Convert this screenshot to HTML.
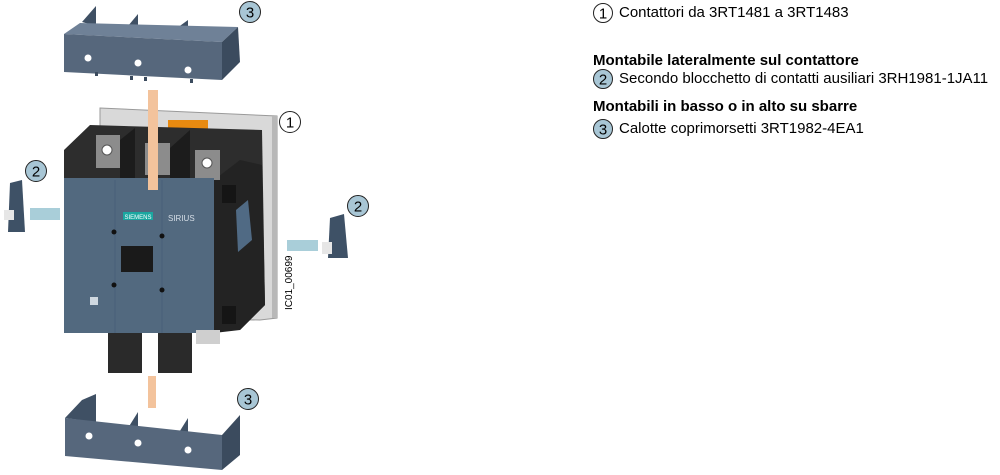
<!DOCTYPE html>
<html><head><meta charset="utf-8"><style>
html,body{margin:0;padding:0;background:#fff;}
body{width:1000px;height:475px;position:relative;overflow:hidden;font-family:"Liberation Sans",Arial,sans-serif;}
.t{position:absolute;font-size:15px;color:#000;white-space:nowrap;}
.b{font-weight:bold;}
</style></head><body>
<svg width="1000" height="475" style="position:absolute;left:0;top:0" font-family="Liberation Sans, sans-serif">
<!-- top cover -->
<polygon points="82,22 96,6 96,26" fill="#3f5064"/>
<polygon points="128,26 138,14 138,30" fill="#3f5064"/>
<polygon points="177,28 188,20 188,34" fill="#3f5064"/>
<polygon points="64,34 80,23 238,27 222,42" fill="#6f8197"/>
<polygon points="222,42 238,27 240,62 222,80" fill="#3b4b5e"/>
<polygon points="64,34 222,42 222,80 64,72" fill="#56677c"/>
<circle cx="88" cy="58" r="3.5" fill="#fff"/><circle cx="138" cy="63" r="3.5" fill="#fff"/><circle cx="188" cy="70" r="3.5" fill="#fff"/>
<rect x="95" y="72" width="3" height="4" fill="#3b4b5e"/><rect x="130" y="76" width="3" height="4" fill="#3b4b5e"/><rect x="144" y="77" width="3" height="4" fill="#3b4b5e"/><rect x="190" y="79" width="3" height="4" fill="#3b4b5e"/>
<!-- backplate -->
<polygon points="100,108 277,116 277,318 260,320 100,318" fill="#d9d9d9" stroke="#9a9a9a"/>
<rect x="272" y="116" width="5" height="202" fill="#b8b8b8"/>
<rect x="168" y="120" width="40" height="12" fill="#e88a10"/>
<!-- dark body -->
<polygon points="64,150 90,125 262,130 265,305 240,330 64,330" fill="#2d2d2d"/>
<polygon points="214,180 240,160 262,165 265,305 240,330 214,333" fill="#232323"/>
<!-- terminals -->
<polygon points="96,135 120,135 120,168 96,168" fill="#8c8c8c"/>
<circle cx="107" cy="150" r="5" fill="#fff" stroke="#555"/>
<polygon points="145,143 170,143 170,175 145,175" fill="#8c8c8c"/>
<polygon points="195,150 220,150 220,180 195,180" fill="#8c8c8c"/>
<circle cx="207" cy="163" r="5" fill="#fff" stroke="#555"/>
<polygon points="120,140 135,128 135,180 120,188" fill="#1c1c1c"/>
<polygon points="170,148 190,130 190,180 170,188" fill="#1c1c1c"/>
<!-- blue front -->
<rect x="64" y="178" width="150" height="155" fill="#52697f"/>
<line x1="115" y1="180" x2="115" y2="333" stroke="#48607a"/>
<line x1="162" y1="180" x2="162" y2="333" stroke="#48607a"/>
<rect x="123" y="212" width="30" height="8" fill="#1ba7a0"/>
<text x="138" y="219" font-size="6" fill="#fff" text-anchor="middle">SIEMENS</text>
<text x="168" y="221" font-size="8" fill="#d5dde6">SIRIUS</text>
<circle cx="114" cy="232" r="2.5" fill="#111"/><circle cx="162" cy="236" r="2.5" fill="#111"/>
<circle cx="114" cy="285" r="2.5" fill="#111"/><circle cx="162" cy="290" r="2.5" fill="#111"/>
<rect x="121" y="246" width="32" height="26" fill="#1a1a1a"/>
<rect x="90" y="297" width="8" height="8" fill="#cfd8e0"/>
<!-- right side details -->
<rect x="222" y="185" width="14" height="18" fill="#151515"/>
<rect x="222" y="306" width="14" height="18" fill="#151515"/>
<polygon points="236,210 248,200 252,240 238,252" fill="#506a84"/>
<!-- bottom terminals -->
<rect x="108" y="333" width="34" height="40" fill="#2a2a2a"/>
<rect x="158" y="333" width="34" height="40" fill="#2a2a2a"/>
<rect x="196" y="330" width="24" height="14" fill="#cfcfcf"/>
<!-- peach bars -->
<rect x="148" y="90" width="10" height="100" fill="#f3c39c"/>
<rect x="148" y="376" width="8" height="32" fill="#f3c39c"/>
<!-- bottom cover -->
<polygon points="65,418 82,400 96,394 96,424 80,420" fill="#3f5064"/>
<polygon points="128,428 138,412 138,432" fill="#3f5064"/>
<polygon points="178,434 188,418 188,440" fill="#3f5064"/>
<polygon points="222,435 240,415 240,455 222,470" fill="#3b4b5e"/>
<polygon points="65,418 222,435 222,470 65,456" fill="#56677c"/>
<circle cx="89" cy="436" r="3.5" fill="#fff"/><circle cx="138" cy="443" r="3.5" fill="#fff"/><circle cx="188" cy="450" r="3.5" fill="#fff"/>
<!-- aux blocks -->
<polygon points="10,183 22,180 25,232 8,232" fill="#3e5166"/>
<rect x="4" y="210" width="10" height="10" fill="#e6e6e6"/>
<rect x="30" y="208" width="30" height="12" fill="#a9ced9"/>
<polygon points="330,218 344,214 348,258 328,258" fill="#3e5166"/>
<rect x="322" y="242" width="10" height="12" fill="#e6e6e6"/>
<rect x="287" y="240" width="31" height="11" fill="#a9ced9"/>
<!-- badges -->
<g font-size="15" text-anchor="middle" stroke-width="1">
<circle cx="250" cy="12" r="10.5" fill="#a8c6d5" stroke="#222"/><text x="250" y="17.5">3</text>
<circle cx="36" cy="171" r="10.5" fill="#a8c6d5" stroke="#222"/><text x="36" y="176.5">2</text>
<circle cx="358" cy="206" r="10.5" fill="#a8c6d5" stroke="#222"/><text x="358" y="211.5">2</text>
<circle cx="290" cy="122" r="10.5" fill="#fff" stroke="#222"/><text x="290" y="127.5">1</text>
<circle cx="248" cy="399" r="10.5" fill="#a8c6d5" stroke="#222"/><text x="248" y="404.5">3</text>
</g>
<text transform="translate(292,310) rotate(-90)" font-size="10" fill="#000">IC01_00699</text>
<!-- legend circles -->
<g font-size="15" text-anchor="middle">
<circle cx="603" cy="13" r="9.5" fill="#fff" stroke="#222"/><text x="603" y="18.5">1</text>
<circle cx="603" cy="79" r="9.5" fill="#a8c6d5" stroke="#222"/><text x="603" y="84.5">2</text>
<circle cx="603" cy="129" r="9.5" fill="#a8c6d5" stroke="#222"/><text x="603" y="134.5">3</text>
</g>
</svg>
<div class="t" style="left:619px;top:4px">Contattori da 3RT1481 a 3RT1483</div>
<div class="t b" style="left:593px;top:52px">Montabile lateralmente sul contattore</div>
<div class="t" style="left:619px;top:70px">Secondo blocchetto di contatti ausiliari 3RH1981-1JA11</div>
<div class="t b" style="left:593px;top:98px">Montabili in basso o in alto su sbarre</div>
<div class="t" style="left:619px;top:120px">Calotte coprimorsetti 3RT1982-4EA1</div>
</body></html>
